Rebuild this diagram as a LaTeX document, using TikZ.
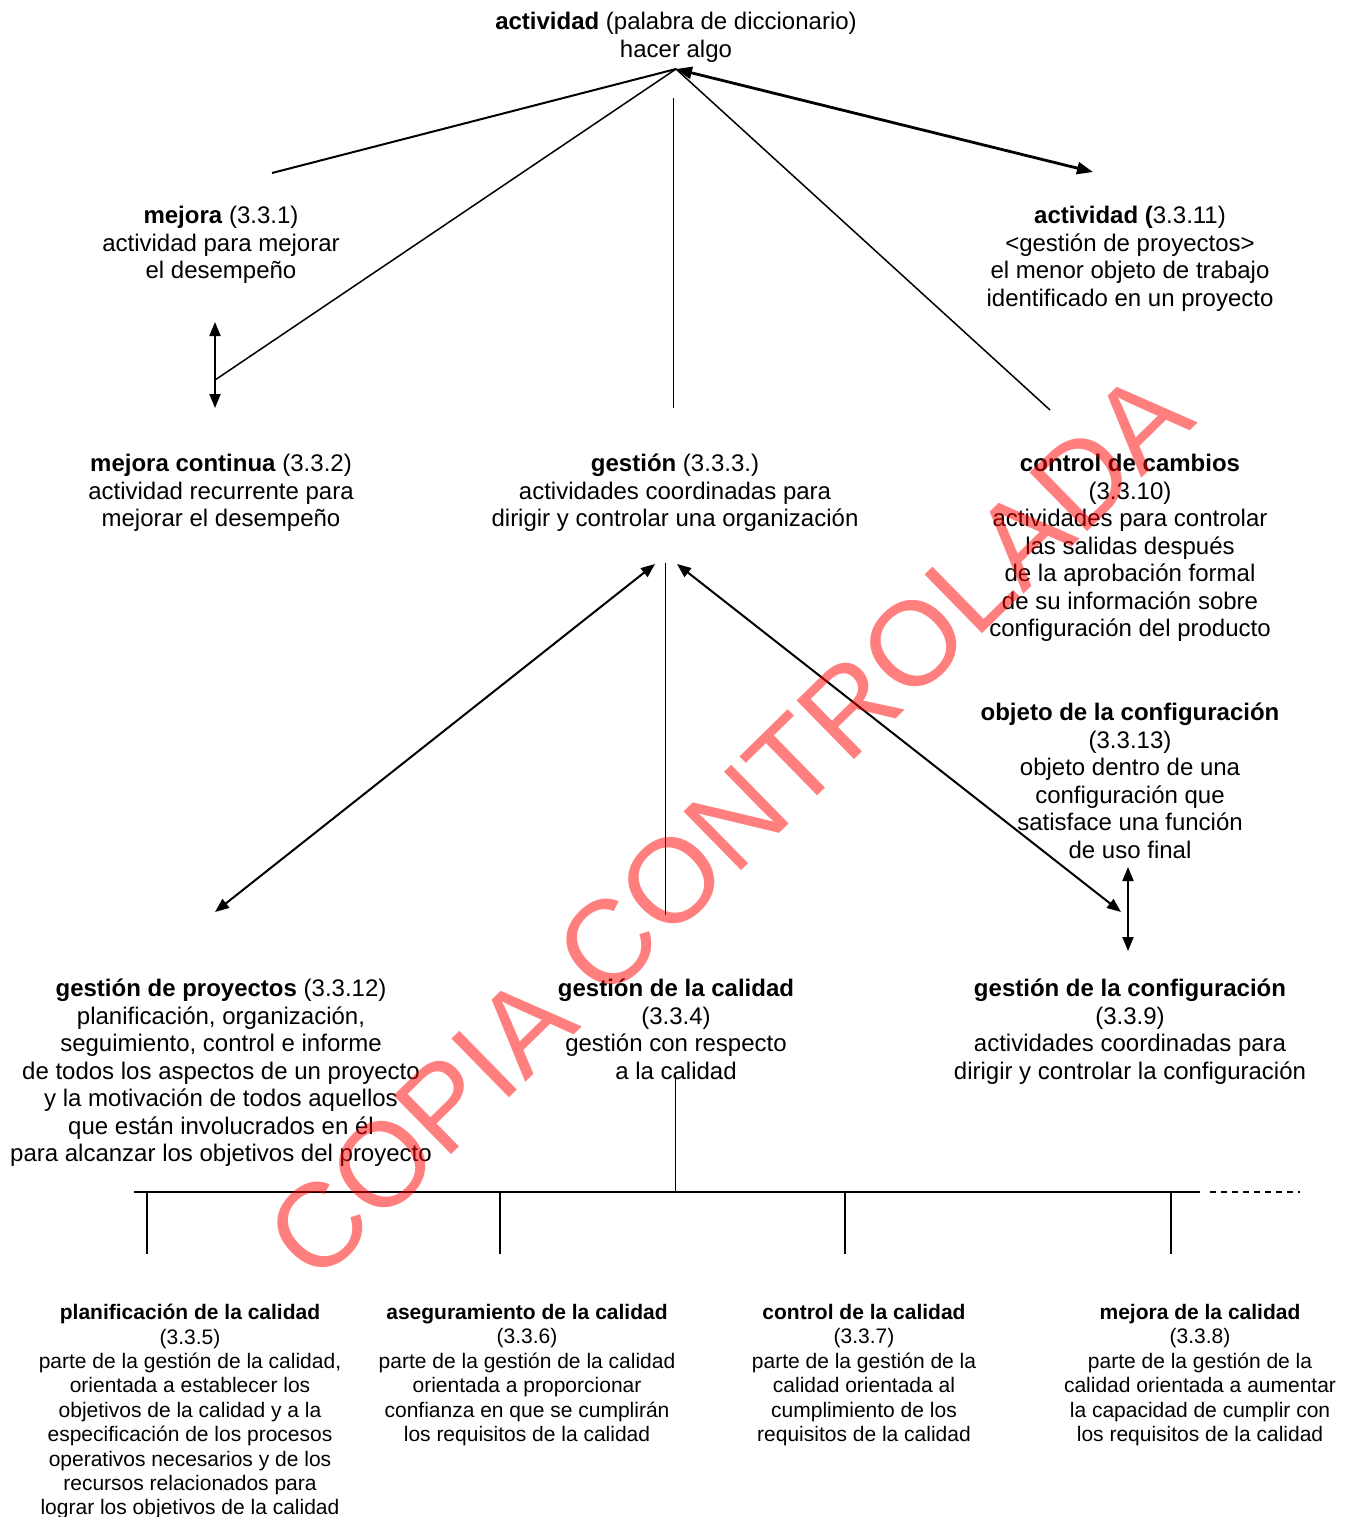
\documentclass[tikz,border=0pt]{standalone}
\usepackage{fontspec}
\setmainfont{Liberation Sans}
\usetikzlibrary{arrows.meta}

\begin{document}
\begin{tikzpicture}[x=1pt,y=-1pt,
  term/.style={anchor=north,align=center,inner sep=0pt,font=\fontsize{24}{27.5}\selectfont,execute at begin node=\strut},
  subterm/.style={anchor=north,align=center,inner sep=0pt,font=\fontsize{21}{24.4}\selectfont,execute at begin node=\strut},
  link/.style={line width=1.5pt},
  thinlink/.style={line width=1pt},
  dbl/.style={line width=2pt,{Triangle[length=14pt,width=11pt]}-{Triangle[length=14pt,width=11pt]}},
  stamp/.style={text=red,text opacity=0.5,inner sep=0pt,font=\fontsize{119.5}{119.5}\selectfont}]
\useasboundingbox (0,0) rectangle (1348,1517);

\node[term] (act) at (676,12) {\textbf{actividad} (palabra de diccionario)\\hacer algo};
\node[term] (mej) at (221,206) {\textbf{mejora} (3.3.1)\\actividad para mejorar\\el desempeño};
\node[term] (actp) at (1130,206) {\textbf{actividad (}3.3.11)\\<gestión de proyectos>\\el menor objeto de trabajo\\identificado en un proyecto};
\node[term] (mejc) at (221,454) {\textbf{mejora continua} (3.3.2)\\actividad recurrente para\\mejorar el desempeño};
\node[term] (gest) at (675,454) {\textbf{gestión} (3.3.3.)\\actividades coordinadas para\\dirigir y controlar una organización};
\node[term] (ccamb) at (1130,454) {\textbf{control de cambios}\\(3.3.10)\\actividades para controlar\\las salidas después\\de la aprobación formal\\de su información sobre\\configuración del producto};
\node[term] (objc) at (1130,703) {\textbf{objeto de la configuración}\\(3.3.13)\\objeto dentro de una\\configuración que\\satisface una función\\de uso final};
\node[term] (gproy) at (221,979) {\textbf{gestión de proyectos} (3.3.12)\\planificación, organización,\\seguimiento, control e informe\\de todos los aspectos de un proyecto\\y la motivación de todos aquellos\\que están involucrados en él\\para alcanzar los objetivos del proyecto};
\node[term] (gcal) at (676,979) {\textbf{gestión de la calidad}\\(3.3.4)\\gestión con respecto\\a la calidad};
\node[term] (gconf) at (1130,979) {\textbf{gestión de la configuración}\\(3.3.9)\\actividades coordinadas para\\dirigir y controlar la configuración};

\node[subterm] (plan) at (190,1304) {\textbf{planificación de la calidad}\\(3.3.5)\\parte de la gestión de la calidad,\\orientada a establecer los\\objetivos de la calidad y a la\\especificación de los procesos\\operativos necesarios y de los\\recursos relacionados para\\lograr los objetivos de la calidad};
\node[subterm] (aseg) at (527,1304) {\textbf{aseguramiento de la calidad}\\(3.3.6)\\parte de la gestión de la calidad\\orientada a proporcionar\\confianza en que se cumplirán\\los requisitos de la calidad};
\node[subterm] (ctrl) at (864,1304) {\textbf{control de la calidad}\\(3.3.7)\\parte de la gestión de la\\calidad orientada al\\cumplimiento de los\\requisitos de la calidad};
\node[subterm] (mcal) at (1200,1304) {\textbf{mejora de la calidad}\\(3.3.8)\\parte de la gestión de la\\calidad orientada a aumentar\\la capacidad de cumplir con\\los requisitos de la calidad};

\coordinate (apex) at (676,69);
\coordinate (mejend) at (272,173);
\coordinate (mcjoin) at (215,380);
\coordinate (gtop) at (673,98);
\coordinate (gbot) at (673,408);
\coordinate (ccend) at (1050,410);
\coordinate (apend) at (1093,172);
\coordinate (mup) at (215,322);
\coordinate (mdown) at (215,408);
\coordinate (gl) at (655,564);
\coordinate (gm) at (665,563);
\coordinate (gr) at (677,564);
\coordinate (gpend) at (215,912);
\coordinate (gcend) at (665,915);
\coordinate (gfend) at (1121,912);
\coordinate (oup) at (1128,867);
\coordinate (odown) at (1128,951);
\coordinate (qtop) at (675,1075);
\coordinate (qjoin) at (675,1192);
\coordinate (bl) at (134,1192);
\coordinate (br) at (1200,1192);
\coordinate (dl) at (1210,1192);
\coordinate (dr) at (1300,1192);

\draw[line width=2pt] (mejend) -- (apex);
\draw[link] (apex) -- (mcjoin);
\draw[thinlink] (gtop) -- (gbot);
\draw[link] (apex) -- (ccend);
\draw[line width=2.8pt,{Triangle[length=16pt,width=12pt]}-{Triangle[length=16pt,width=12pt]}] (apex) -- (apend);
\draw[dbl] (mup) -- (mdown);

\draw[thinlink] (gm) -- (gcend);
\draw[dbl] (gl) -- (gpend);
\draw[dbl] (gr) -- (gfend);
\draw[dbl] (oup) -- (odown);

\draw[thinlink] (qtop) -- (qjoin);
\draw[line width=2pt] (bl) -- (br);
\draw[link,dash pattern=on 6pt off 5pt] (dl) -- (dr);
\foreach \x/\n in {147/p,500/a,845/c,1171/m} {
  \coordinate (\n top) at (\x,1192);
  \coordinate (\n bot) at (\x,1254);
  \draw[link] (\n top) -- (\n bot);
}

\node[stamp,rotate=44.4] (copia) at (729,825) {COPIA CONTROLADA};
\end{tikzpicture}
\end{document}
